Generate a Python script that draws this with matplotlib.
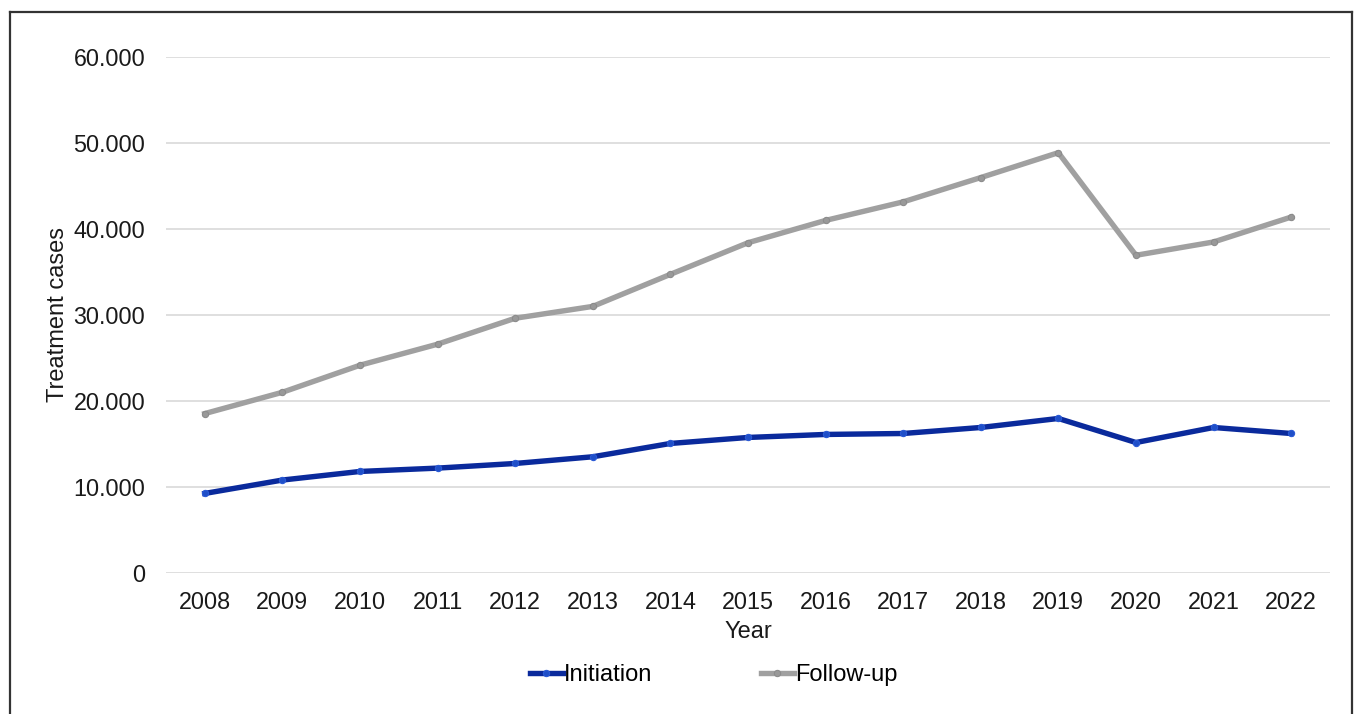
import matplotlib
matplotlib.use("Agg")
import matplotlib.pyplot as plt
from matplotlib.lines import Line2D
from matplotlib.ticker import FuncFormatter

plt.rcParams['font.family'] = ['Liberation Sans', 'DejaVu Sans']

years = ['2008', '2009', '2010', '2011', '2012', '2013', '2014', '2015',
         '2016', '2017', '2018', '2019', '2020', '2021', '2022']
initiation = [9220, 10780, 11780, 12170, 12710, 13490, 15040, 15740,
              16090, 16200, 16900, 17950, 15150, 16900, 16200]
follow_up = [18520, 21000, 24150, 26600, 29620, 31000, 34730, 38410,
             41010, 43170, 46000, 48900, 36950, 38500, 41400]

fig = plt.figure(figsize=(13.55, 7.14), dpi=100)
ax = fig.add_axes([0.1225, 0.198, 0.859, 0.7217])

x = range(len(years))
ax.plot(x, initiation, color='#0a2a9c', lw=3.9, marker='o', ms=4.5,
        mfc='#1f4fc8', mec='#2a5ad6', mew=0.8, label='Initiation', zorder=3)
ax.plot(x, follow_up, color='#a0a0a0', lw=3.9, marker='o', ms=4.5,
        mfc='#999999', mec='#8c8c8c', mew=0.8, label='Follow-up', zorder=3)

ax.set_xlim(-0.5, len(years) - 0.5)
ax.set_ylim(0, 60000)
ax.set_yticks(range(0, 60001, 10000))
ax.yaxis.set_major_formatter(FuncFormatter(lambda v, p: f"{int(v):,}".replace(',', '.')))
ax.set_xticks(list(x))
ax.set_xticklabels(years)

ax.grid(axis='y', color='#dcdcdc', lw=1.3)
ax.set_axisbelow(True)
for s in ax.spines.values():
    s.set_visible(False)
ax.tick_params(axis='both', length=0, labelsize=16.8, colors='#1a1a1a')
ax.tick_params(axis='y', pad=15)
ax.tick_params(axis='x', pad=13)

ax.set_xlabel('Year', fontsize=17, color='#1a1a1a', labelpad=5)
ax.set_ylabel('Treatment cases', fontsize=17, color='#1a1a1a', labelpad=3)

fig.legend(loc='center', bbox_to_anchor=(0.5266, 0.054), ncol=2, frameon=False,
           fontsize=17, handlelength=1.4, handletextpad=0.05, columnspacing=4.6)

# outer frame
for xs, ys in [([0.0074, 0.0074], [0.0, 0.983]),
               ([0.0074, 0.998], [0.983, 0.983]),
               ([0.998, 0.998], [0.0, 0.983])]:
    fig.add_artist(Line2D(xs, ys, transform=fig.transFigure, color='#333333', lw=1.6))

fig.savefig('out.png', dpi=100)
